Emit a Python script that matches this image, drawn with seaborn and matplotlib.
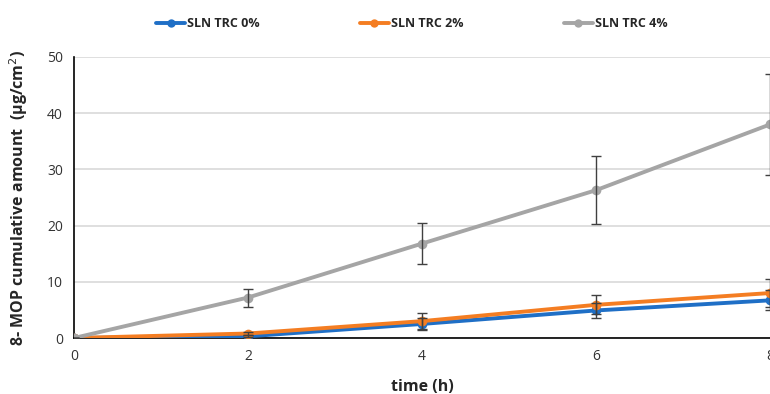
import pandas as pd
import matplotlib.pyplot as plt
import seaborn as sns

time_h = [0, 2, 4, 6, 8]
series_names = ['SLN TRC 0%', 'SLN TRC 2%', 'SLN TRC 4%']
trc0 = [0, 0.3, 2.5, 4.9, 6.7]
trc2 = [0, 0.8, 3.0, 5.9, 8.0]
trc4 = [0, 7.2, 16.8, 26.3, 38.0]
trc0_err = [0, 0.2, 1.1, 1.4, 1.8]
trc2_err = [0, 0.3, 1.4, 1.7, 2.5]
trc4_err = [0, 1.6, 3.7, 6.0, 9.0]
colors = ['#1f6fc6', '#f47d22', '#a5a5a5']

df = pd.DataFrame({
    'time': time_h * 3,
    'amount': trc0 + trc2 + trc4,
    'err': trc0_err + trc2_err + trc4_err,
    'series': [s for s in series_names for _ in time_h],
})

sns.set_style('white')
plt.rcParams['font.family'] = ['Open Sans', 'DejaVu Sans']

fig = plt.figure(figsize=(7.7, 3.94), dpi=100)
ax = fig.add_axes([74 / 770, 1 - 338 / 394, 696 / 770, 281 / 394])

sns.lineplot(data=df, x='time', y='amount', hue='series', palette=colors,
             marker='o', markersize=7, markeredgewidth=0, linewidth=2.8,
             ax=ax, legend=False, zorder=3)
for name in series_names:
    d = df[df['series'] == name]
    ax.errorbar(d['time'], d['amount'], yerr=d['err'], fmt='none',
                ecolor='#404040', elinewidth=1, capsize=3.5, capthick=1, zorder=4)

ax.set_xlim(0, 8)
ax.set_ylim(0, 50)
ax.set_xticks([0, 2, 4, 6, 8])
ax.set_yticks(range(0, 51, 10))
ax.yaxis.grid(True, color='#d9d9d9', linewidth=1.2)
ax.set_axisbelow(True)
for s in ['top', 'right']:
    ax.spines[s].set_visible(False)
ax.spines['left'].set_color('black')
ax.spines['bottom'].set_color('black')
ax.spines['left'].set_linewidth(1.2)
ax.spines['bottom'].set_linewidth(1.2)
ax.tick_params(axis='both', length=0, labelsize=10, colors='#333333', pad=8)
ax.set_xlabel('time (h)', fontsize=11.5, fontweight='bold', labelpad=11)
ax.set_ylabel('8- MOP cumulative amount  (μg/cm$^2$)', fontsize=11.5,
              fontweight='bold', labelpad=12)

handles = [plt.Line2D([], [], color=c, marker='o', markersize=6, markeredgewidth=0,
                      linewidth=2.8) for c in colors]
fig.legend(handles, series_names, loc='center', bbox_to_anchor=(0.535, 0.94),
           ncol=3, frameon=False, columnspacing=8,
           handlelength=2.3, handletextpad=0.2, prop={'weight': 'bold', 'size': 9})

fig.savefig('out.png', dpi=100)
